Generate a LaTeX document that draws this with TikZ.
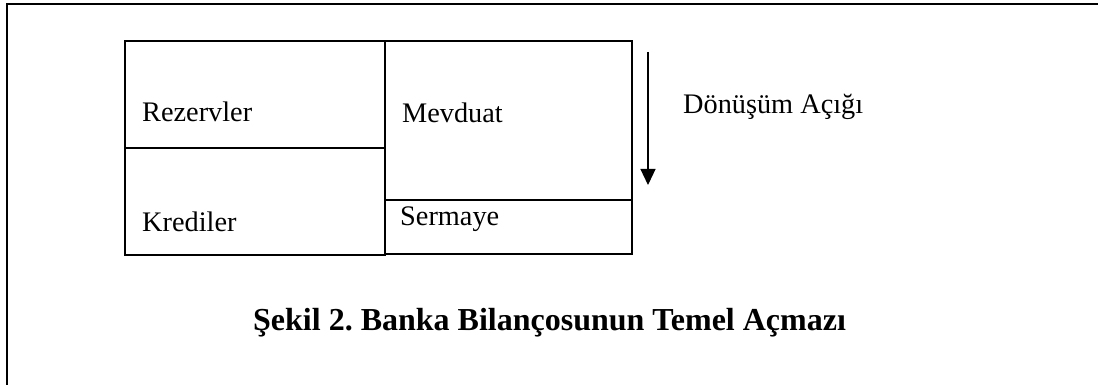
\documentclass[tikz,border=0pt]{standalone}
\usepackage{fontspec}
\setmainfont{Liberation Serif}
\usetikzlibrary{arrows.meta}
\frenchspacing
\begin{document}
\begin{tikzpicture}[x=1pt,y=-1pt,
  cell/.style={draw,line width=1.5pt,minimum width=#1,inner sep=0pt,outer sep=0pt,anchor=north west},
  cell/.default=260pt,
  lbl/.style={anchor=base west,inner sep=0pt,font=\fontsize{28.3}{34}\selectfont},
  captiontext/.style={anchor=base west,inner sep=0pt,font=\fontsize{32}{38}\selectfont\bfseries},
  frameline/.style={line width=2pt}]
\useasboundingbox (0,0) rectangle (1098,385);
% open frame: top and left edges
\coordinate (ftl) at (7,4);
\coordinate (ftr) at (1098,4);
\coordinate (fbl) at (7,385);
\draw[frameline] (ftr) -- (ftl) -- (fbl);
% balance sheet cells
\node[cell=260pt,minimum height=107pt] (rez) at (125,41) {};
\node[cell=260pt,minimum height=107pt] (kred) at (125,148) {};
\node[cell=247pt,minimum height=159pt] (mev) at (385,41) {};
\node[cell=247pt,minimum height=54pt] (ser) at (385,200) {};
% cell labels
\node[lbl] (trez) at (142,122) {Rezervler};
\node[lbl] (tkred) at (142,231) {Krediler};
\node[lbl] (tmev) at (402,123) {Mevduat};
\node[lbl] (tser) at (400,225) {Sermaye};
% maturity gap arrow
\coordinate (atop) at (648,52);
\coordinate (abot) at (648,185);
\draw[line width=1.2pt,-{Triangle[width=15pt,length=16pt]}] (atop) -- (abot);
\node[lbl] (gap) at (683,114) {Dönüşüm Açığı};
% caption
\node[captiontext] (caption) at (253,330) {Şekil 2. Banka Bilançosunun Temel Açmazı};
\end{tikzpicture}
\end{document}
